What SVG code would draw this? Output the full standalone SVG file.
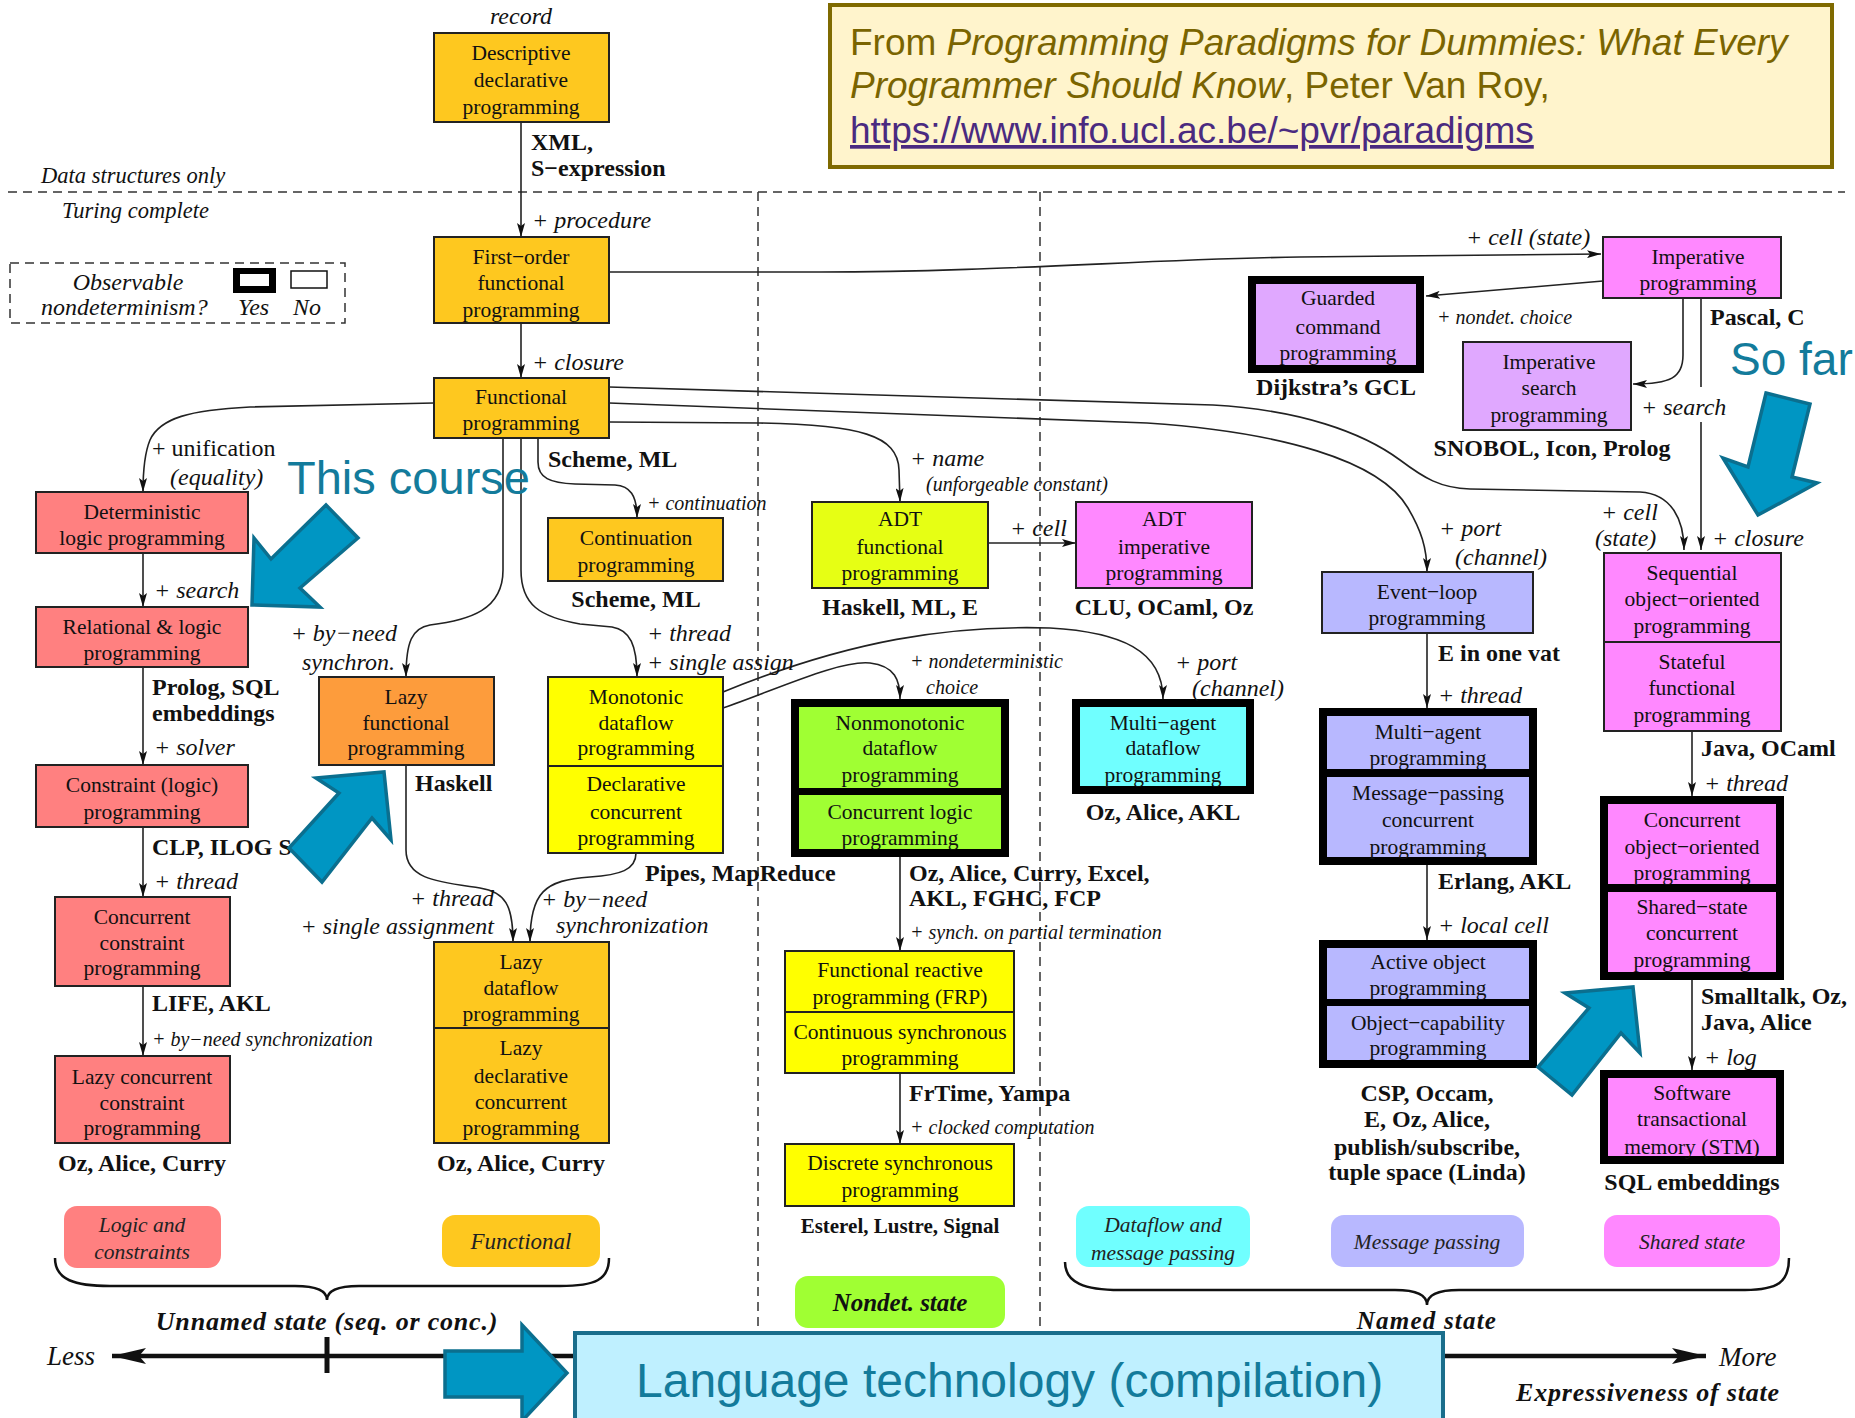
<svg xmlns="http://www.w3.org/2000/svg" width="1855" height="1418" viewBox="0 0 1855 1418">
<defs>
<marker id="ah" viewBox="0 0 14 8" refX="14" refY="4" markerWidth="14" markerHeight="8" orient="auto" markerUnits="userSpaceOnUse"><path d="M0,0 L14,4 L0,8 L3,4 z" fill="#111"/></marker>
<marker id="axl" viewBox="0 0 34 16" refX="0" refY="8" markerWidth="34" markerHeight="16" orient="auto" markerUnits="userSpaceOnUse"><path d="M0,8 L34,0 L27,8 L34,16 z" fill="#111"/></marker>
<marker id="axr" viewBox="0 0 34 16" refX="34" refY="8" markerWidth="34" markerHeight="16" orient="auto" markerUnits="userSpaceOnUse"><path d="M34,8 L0,0 L7,8 L0,16 z" fill="#111"/></marker>
</defs>
<style>
text{font-family:"Liberation Serif","Times New Roman",serif;fill:#111}
.n{font-size:21.5px;text-anchor:middle}
.b{font-size:24px;font-weight:bold}
.bc{text-anchor:middle}
.i{font-size:24px;font-style:italic}
.is{font-size:20px;font-style:italic}
.r{text-anchor:end}
.bx{stroke:#222;stroke-width:2}
.c{fill:none;stroke:#222;stroke-width:1.6}
.dash{fill:none;stroke:#333;stroke-width:1.5;stroke-dasharray:9 6}
.ba{fill:#0096c3;stroke:#0b6f8f;stroke-width:3.5;stroke-linejoin:miter}
.gold{fill:#fec81f}
.sal{fill:#ff8080}
.yel{fill:#ffff00}
.lime{fill:#e6ff14}
.grn{fill:#a0ff33}
.cyan{fill:#70ffff}
.lav{fill:#b8b8ff}
.pur{fill:#e0a8ff}
.mag{fill:#ff88ff}
.org{fill:#fd9c3c}
.pill{font-size:21.5px;font-style:italic;text-anchor:middle;fill:#222}
.bi{font-weight:bold;font-style:italic}
.teal{font-family:"Liberation Sans",Arial,sans-serif;fill:#137b9b}
.tt{font-family:"Liberation Sans",Arial,sans-serif;font-size:37px;fill:#7a6400}
</style>
<rect width="1855" height="1418" fill="#fff"/>

<!-- title box -->
<g id="title">
<rect x="830" y="5" width="1002" height="162" fill="#fff4cc" stroke="#7f6a00" stroke-width="4"/>
<text class="tt" x="850" y="55">From <tspan font-style="italic">Programming Paradigms for Dummies: What Every</tspan></text>
<text class="tt" x="850" y="98"><tspan font-style="italic">Programmer Should Know</tspan>, Peter Van Roy,</text>
<text class="tt" x="850" y="143" text-decoration="underline" style="fill:#4a2a80">https://www.info.ucl.ac.be/~pvr/paradigms</text>
</g>

<!-- dashed separators -->
<g id="separators">
<line class="dash" x1="8" y1="192" x2="1845" y2="192"/>
<line class="dash" x1="758" y1="192" x2="758" y2="1340"/>
<line class="dash" x1="1040" y1="192" x2="1040" y2="1340"/>
<text class="i" x="41" y="183" style="font-size:22.5px">Data structures only</text>
<text class="i" x="62" y="218" style="font-size:22.5px">Turing complete</text>
</g>

<!-- legend -->
<g id="legend">
<rect class="dash" x="10" y="263" width="335" height="60"/>
<text class="i" x="128" y="290" text-anchor="middle">Observable</text>
<text class="i" x="41" y="315">nondeterminism?</text>
<rect x="233" y="268" width="43" height="25" fill="#000"/>
<rect x="240" y="274" width="29" height="12" fill="#fff"/>
<rect x="291" y="271" width="36" height="17" fill="#fff" stroke="#111" stroke-width="1.5"/>
<text class="i" x="238" y="315">Yes</text>
<text class="i" x="293" y="315">No</text>
</g>

<!-- connectors -->
<g id="connectors" class="c">
<path d="M521,122 L521,237" marker-end="url(#ah)"/>
<path d="M521,323 L521,378" marker-end="url(#ah)"/>
<path d="M609,272 L820,272 C1000,272 1150,259 1300,257 L1601,254" marker-end="url(#ah)"/>
<path d="M1603,281 L1426,296" marker-end="url(#ah)"/>
<path d="M1683,298 L1683,355 C1683,378 1670,384 1633,384" marker-end="url(#ah)"/>
<path d="M1701,298 L1701,387"/>
<path d="M1701,422 L1701,550" marker-end="url(#ah)"/>
<path d="M609,387 L1213,405 C1300,410 1362,432 1400,460 C1424,478 1440,488 1470,489 L1640,492 C1672,494 1684,520 1684,550" marker-end="url(#ah)"/>
<path d="M609,403 L1147,423 C1280,432 1380,460 1408,508 C1421,530 1427,548 1427,572" marker-end="url(#ah)"/>
<path d="M609,422 L760,423 C860,425 898,435 899,470 L900,502" marker-end="url(#ah)"/>
<path d="M988,543 L1076,543" marker-end="url(#ah)"/>
<path d="M434,403 L250,407 C190,410 160,418 150,440 C145,452 143,470 143,492" marker-end="url(#ah)"/>
<path d="M143,553 L143,607" marker-end="url(#ah)"/>
<path d="M143,667 L143,765" marker-end="url(#ah)"/>
<path d="M143,827 L143,897" marker-end="url(#ah)"/>
<path d="M143,986 L143,1056" marker-end="url(#ah)"/>
<path d="M538,438 L538,462 C538,478 550,483 575,484 L615,485 C630,486 637,495 637,518" marker-end="url(#ah)"/>
<path d="M521,438 L521,570 C521,605 540,617 580,624 L612,627 C630,630 637,645 637,677" marker-end="url(#ah)"/>
<path d="M503,438 L503,570 C503,610 470,620 430,625 C412,628 406,642 406,677" marker-end="url(#ah)"/>
<path d="M406,765 L406,850 C406,880 440,882 480,888 C505,892 513,905 513,942" marker-end="url(#ah)"/>
<path d="M636,853 C636,870 620,875 590,877 C545,880 530,892 530,942" marker-end="url(#ah)"/>
<path d="M723,692 C850,640 950,625 1050,628 C1120,632 1163,650 1163,699" marker-end="url(#ah)"/>
<path d="M723,708 C780,688 840,660 870,663 C895,666 900,680 900,699" marker-end="url(#ah)"/>
<path d="M900,857 L900,951" marker-end="url(#ah)"/>
<path d="M900,1073 L900,1144" marker-end="url(#ah)"/>
<path d="M1427,633 L1427,708" marker-end="url(#ah)"/>
<path d="M1427,865 L1427,940" marker-end="url(#ah)"/>
<path d="M1692,731 L1692,796" marker-end="url(#ah)"/>
<path d="M1692,980 L1692,1070" marker-end="url(#ah)"/>
</g>

<!-- nodes -->
<g id="n-descriptive"><rect class="bx gold" x="434" y="33" width="175" height="89"/>
<text class="n" x="521" y="60">Descriptive</text><text class="n" x="521" y="87">declarative</text><text class="n" x="521" y="114">programming</text></g>
<g id="n-firstorder"><rect class="bx gold" x="434" y="237" width="175" height="86"/>
<text class="n" x="521" y="264">First−order</text><text class="n" x="521" y="290">functional</text><text class="n" x="521" y="317">programming</text></g>
<g id="n-functional"><rect class="bx gold" x="434" y="378" width="175" height="60"/>
<text class="n" x="521" y="404">Functional</text><text class="n" x="521" y="430">programming</text></g>

<g id="n-deterministic"><rect class="bx sal" x="36" y="492" width="212" height="61"/>
<text class="n" x="142" y="519">Deterministic</text><text class="n" x="142" y="545">logic programming</text></g>
<g id="n-relational"><rect class="bx sal" x="36" y="607" width="212" height="60"/>
<text class="n" x="142" y="634">Relational &amp; logic</text><text class="n" x="142" y="660">programming</text></g>
<g id="n-constraint"><rect class="bx sal" x="36" y="765" width="212" height="62"/>
<text class="n" x="142" y="792">Constraint (logic)</text><text class="n" x="142" y="819">programming</text></g>
<g id="n-concconstraint"><rect class="bx sal" x="55" y="897" width="175" height="89"/>
<text class="n" x="142" y="924">Concurrent</text><text class="n" x="142" y="950">constraint</text><text class="n" x="142" y="975">programming</text></g>
<g id="n-lazycc"><rect class="bx sal" x="55" y="1056" width="175" height="87"/>
<text class="n" x="142" y="1084">Lazy concurrent</text><text class="n" x="142" y="1110">constraint</text><text class="n" x="142" y="1135">programming</text></g>

<g id="n-lazyfunctional"><rect class="bx org" x="319" y="677" width="175" height="88"/>
<text class="n" x="406" y="704">Lazy</text><text class="n" x="406" y="730">functional</text><text class="n" x="406" y="755">programming</text></g>
<g id="n-continuation"><rect class="bx gold" x="548" y="518" width="175" height="63"/>
<text class="n" x="636" y="545">Continuation</text><text class="n" x="636" y="572">programming</text></g>
<g id="n-monotonic"><rect class="bx yel" x="548" y="677" width="175" height="89"/><rect class="bx yel" x="548" y="766" width="175" height="87"/>
<text class="n" x="636" y="704">Monotonic</text><text class="n" x="636" y="730">dataflow</text><text class="n" x="636" y="755">programming</text>
<text class="n" x="636" y="791">Declarative</text><text class="n" x="636" y="819">concurrent</text><text class="n" x="636" y="845">programming</text></g>
<g id="n-lazydataflow"><rect class="bx gold" x="434" y="942" width="175" height="86"/><rect class="bx gold" x="434" y="1028" width="175" height="115"/>
<text class="n" x="521" y="969">Lazy</text><text class="n" x="521" y="995">dataflow</text><text class="n" x="521" y="1021">programming</text>
<text class="n" x="521" y="1055">Lazy</text><text class="n" x="521" y="1083">declarative</text><text class="n" x="521" y="1109">concurrent</text><text class="n" x="521" y="1135">programming</text></g>

<g id="n-adtfunctional"><rect class="bx lime" x="812" y="502" width="176" height="86"/>
<text class="n" x="900" y="526">ADT</text><text class="n" x="900" y="554">functional</text><text class="n" x="900" y="580">programming</text></g>
<g id="n-adtimperative"><rect class="bx mag" x="1076" y="502" width="176" height="86"/>
<text class="n" x="1164" y="526">ADT</text><text class="n" x="1164" y="554">imperative</text><text class="n" x="1164" y="580">programming</text></g>
<g id="n-nonmonotonic"><rect x="791" y="699" width="218" height="158" fill="#000"/>
<rect class="grn" x="799" y="707" width="202" height="81"/><rect class="grn" x="799" y="795" width="202" height="54"/>
<text class="n" x="900" y="730">Nonmonotonic</text><text class="n" x="900" y="755">dataflow</text><text class="n" x="900" y="782">programming</text>
<text class="n" x="900" y="819">Concurrent logic</text><text class="n" x="900" y="845">programming</text></g>
<g id="n-multiagentdataflow"><rect x="1072" y="699" width="182" height="95" fill="#000"/>
<rect class="cyan" x="1080" y="707" width="166" height="79"/>
<text class="n" x="1163" y="730">Multi−agent</text><text class="n" x="1163" y="755">dataflow</text><text class="n" x="1163" y="782">programming</text></g>
<g id="n-frp"><rect class="bx yel" x="785" y="951" width="229" height="61"/><rect class="bx yel" x="785" y="1012" width="229" height="61"/>
<text class="n" x="900" y="977">Functional reactive</text><text class="n" x="900" y="1004">programming (FRP)</text>
<text class="n" x="900" y="1039">Continuous synchronous</text><text class="n" x="900" y="1065">programming</text></g>
<g id="n-discrete"><rect class="bx yel" x="785" y="1144" width="229" height="62"/>
<text class="n" x="900" y="1170">Discrete synchronous</text><text class="n" x="900" y="1197">programming</text></g>

<g id="n-imperative"><rect class="bx mag" x="1603" y="237" width="178" height="61"/>
<text class="n" x="1698" y="264">Imperative</text><text class="n" x="1698" y="290">programming</text></g>
<g id="n-guarded"><rect x="1248" y="276" width="176" height="97" fill="#000"/>
<rect class="pur" x="1256" y="284" width="160" height="81"/>
<text class="n" x="1338" y="305">Guarded</text><text class="n" x="1338" y="334">command</text><text class="n" x="1338" y="360">programming</text></g>
<g id="n-impsearch"><rect class="bx pur" x="1463" y="342" width="168" height="88"/>
<text class="n" x="1549" y="369">Imperative</text><text class="n" x="1549" y="395">search</text><text class="n" x="1549" y="422">programming</text></g>
<g id="n-eventloop"><rect class="bx lav" x="1322" y="572" width="211" height="61"/>
<text class="n" x="1427" y="599">Event−loop</text><text class="n" x="1427" y="625">programming</text></g>
<g id="n-multiagent"><rect x="1319" y="708" width="218" height="157" fill="#000"/>
<rect class="lav" x="1327" y="716" width="202" height="53"/><rect class="lav" x="1327" y="777" width="202" height="80"/>
<text class="n" x="1428" y="739">Multi−agent</text><text class="n" x="1428" y="765">programming</text>
<text class="n" x="1428" y="800">Message−passing</text><text class="n" x="1428" y="827">concurrent</text><text class="n" x="1428" y="854">programming</text></g>
<g id="n-activeobject"><rect x="1319" y="940" width="218" height="128" fill="#000"/>
<rect class="lav" x="1327" y="948" width="202" height="51"/><rect class="lav" x="1327" y="1006" width="202" height="54"/>
<text class="n" x="1428" y="969">Active object</text><text class="n" x="1428" y="995">programming</text>
<text class="n" x="1428" y="1030">Object−capability</text><text class="n" x="1428" y="1055">programming</text></g>
<g id="n-sequentialoo"><rect class="bx mag" x="1604" y="553" width="177" height="89"/><rect class="bx mag" x="1604" y="642" width="177" height="89"/>
<text class="n" x="1692" y="580">Sequential</text><text class="n" x="1692" y="606">object−oriented</text><text class="n" x="1692" y="633">programming</text>
<text class="n" x="1692" y="669">Stateful</text><text class="n" x="1692" y="695">functional</text><text class="n" x="1692" y="722">programming</text></g>
<g id="n-concurrentoo"><rect x="1600" y="796" width="184" height="184" fill="#000"/>
<rect class="mag" x="1608" y="804" width="168" height="80"/><rect class="mag" x="1608" y="892" width="168" height="80"/>
<text class="n" x="1692" y="827">Concurrent</text><text class="n" x="1692" y="854">object−oriented</text><text class="n" x="1692" y="880">programming</text>
<text class="n" x="1692" y="914">Shared−state</text><text class="n" x="1692" y="940">concurrent</text><text class="n" x="1692" y="967">programming</text></g>
<g id="n-stm"><rect x="1600" y="1070" width="184" height="94" fill="#000"/>
<rect class="mag" x="1608" y="1078" width="168" height="78"/>
<text class="n" x="1692" y="1100">Software</text><text class="n" x="1692" y="1126">transactional</text><text class="n" x="1692" y="1154">memory (STM)</text></g>

<!-- labels -->
<g id="labels">
<text class="i" x="521" y="24" text-anchor="middle">record</text>
<text class="b" x="531" y="150">XML,</text>
<text class="b" x="531" y="176">S−expression</text>
<text class="i" x="532" y="228">+ procedure</text>
<text class="i" x="532" y="370">+ closure</text>
<text class="b" x="548" y="467">Scheme, ML</text>
<text x="152" y="456" style="font-size:24px">+ unification</text>
<text class="i" x="170" y="485">(equality)</text>
<text class="i" x="154" y="598">+ search</text>
<text class="b" x="152" y="695">Prolog, SQL</text>
<text class="b" x="152" y="721">embeddings</text>
<text class="i" x="154" y="755">+ solver</text>
<text class="b" x="152" y="855">CLP, ILOG Solver</text>
<text class="i" x="154" y="889">+ thread</text>
<text class="b" x="152" y="1011">LIFE, AKL</text>
<text class="is" x="152" y="1046">+ by−need synchronization</text>
<text class="b bc" x="142" y="1171">Oz, Alice, Curry</text>
<text class="i r" x="397" y="641">+ by−need</text>
<text class="i r" x="395" y="670">synchron.</text>
<text class="b" x="415" y="791">Haskell</text>
<text class="i r" x="494" y="906">+ thread</text>
<text class="i r" x="494" y="934">+ single assignment</text>
<text class="i" x="541" y="907">+ by−need</text>
<text class="i" x="556" y="933">synchronization</text>
<text class="b bc" x="521" y="1171">Oz, Alice, Curry</text>
<text class="is" x="647" y="510">+ continuation</text>
<text class="b bc" x="636" y="607">Scheme, ML</text>
<text class="i" x="647" y="641">+ thread</text>
<text class="i" x="647" y="670">+ single assign</text>
<text class="b" x="645" y="881">Pipes, MapReduce</text>
<text class="i" x="910" y="466">+ name</text>
<text class="is" x="926" y="491">(unforgeable constant)</text>
<text class="b bc" x="900" y="615">Haskell, ML, E</text>
<text class="i" x="1010" y="536">+ cell</text>
<text class="b bc" x="1164" y="615">CLU, OCaml, Oz</text>
<text class="is" x="910" y="668">+ nondeterministic</text>
<text class="is" x="926" y="694">choice</text>
<text class="i" x="1175" y="670">+ port</text>
<text class="i" x="1192" y="696">(channel)</text>
<text class="b" x="909" y="881">Oz, Alice, Curry, Excel,</text>
<text class="b" x="909" y="906">AKL, FGHC, FCP</text>
<text class="b bc" x="1163" y="820">Oz, Alice, AKL</text>
<text class="is" x="910" y="939">+ synch. on partial termination</text>
<text class="b" x="909" y="1101">FrTime, Yampa</text>
<text class="is" x="910" y="1134">+ clocked computation</text>
<text class="b bc" x="900" y="1233" style="font-size:21px">Esterel, Lustre, Signal</text>
<text class="i" x="1466" y="245">+ cell (state)</text>
<text class="is" x="1437" y="324">+ nondet. choice</text>
<text class="b bc" x="1336" y="395">Dijkstra’s GCL</text>
<text class="b" x="1710" y="325">Pascal, C</text>
<text class="i" x="1641" y="415">+ search</text>
<text class="b bc" x="1552" y="456">SNOBOL, Icon, Prolog</text>
<text class="i" x="1439" y="536">+ port</text>
<text class="i" x="1455" y="565">(channel)</text>
<text class="i" x="1601" y="520">+ cell</text>
<text class="i" x="1595" y="546">(state)</text>
<text class="i" x="1712" y="546">+ closure</text>
<text class="b" x="1438" y="661">E in one vat</text>
<text class="i" x="1438" y="703">+ thread</text>
<text class="b" x="1438" y="889">Erlang, AKL</text>
<text class="i" x="1438" y="933">+ local cell</text>
<text class="b bc" x="1427" y="1101">CSP, Occam,</text>
<text class="b bc" x="1427" y="1127">E, Oz, Alice,</text>
<text class="b bc" x="1427" y="1155">publish/subscribe,</text>
<text class="b bc" x="1427" y="1180">tuple space (Linda)</text>
<text class="b" x="1701" y="756">Java, OCaml</text>
<text class="i" x="1704" y="791">+ thread</text>
<text class="b" x="1701" y="1004">Smalltalk, Oz,</text>
<text class="b" x="1701" y="1030">Java, Alice</text>
<text class="i" x="1704" y="1065">+ log</text>
<text class="b bc" x="1692" y="1190">SQL embeddings</text>
</g>

<!-- category pills -->
<g id="pill-logic"><rect x="64" y="1206" width="157" height="62" rx="13" fill="#ff8080"/>
<text class="pill" x="142" y="1232">Logic and</text><text class="pill" x="142" y="1259">constraints</text></g>
<g id="pill-functional"><rect x="442" y="1215" width="158" height="52" rx="13" fill="#fec81f"/>
<text class="pill" x="521" y="1249" style="font-size:23px">Functional</text></g>
<g id="pill-nondet"><rect x="795" y="1276" width="210" height="52" rx="13" fill="#a0ff33"/>
<text class="pill bi" x="900" y="1311" style="font-size:25px;font-weight:bold;fill:#111">Nondet. state</text></g>
<g id="pill-dataflow"><rect x="1076" y="1206" width="174" height="61" rx="13" fill="#70ffff"/>
<text class="pill" x="1163" y="1232">Dataflow and</text><text class="pill" x="1163" y="1260">message passing</text></g>
<g id="pill-message"><rect x="1331" y="1215" width="193" height="52" rx="13" fill="#b8b8ff"/>
<text class="pill" x="1427" y="1249">Message passing</text></g>
<g id="pill-shared"><rect x="1604" y="1215" width="176" height="52" rx="13" fill="#ff88ff"/>
<text class="pill" x="1692" y="1249">Shared state</text></g>

<!-- braces and axis -->
<g id="axis">
<path d="M55,1258 C55,1280 75,1286 110,1286 L295,1286 C318,1286 327,1292 327,1300 C327,1292 336,1286 359,1286 L560,1286 C595,1286 609,1280 609,1258" fill="none" stroke="#111" stroke-width="2.5"/>
<path d="M1065,1262 C1065,1283 1085,1290 1120,1290 L1395,1290 C1418,1290 1427,1296 1427,1305 C1427,1296 1436,1290 1459,1290 L1745,1290 C1778,1290 1789,1282 1789,1258" fill="none" stroke="#111" stroke-width="2.5"/>
<text class="i bi" x="327" y="1330" text-anchor="middle" style="font-size:26px;letter-spacing:0.8px">Unnamed state (seq. or conc.)</text>
<text class="i bi" x="1427" y="1329" text-anchor="middle" style="font-size:25px;letter-spacing:1.2px">Named state</text>
<line x1="112" y1="1356" x2="1706" y2="1356" stroke="#111" stroke-width="4.5" marker-start="url(#axl)" marker-end="url(#axr)"/>
<line x1="327" y1="1337" x2="327" y2="1373" stroke="#111" stroke-width="5"/>
<text class="i" x="47" y="1365" style="font-size:27px">Less</text>
<text class="i" x="1719" y="1366" style="font-size:27px">More</text>
<text class="i bi" x="1516" y="1401" style="font-size:26px;letter-spacing:0.8px">Expressiveness of state</text>
</g>

<!-- overlays -->
<g id="lang-tech">
<rect x="575" y="1333" width="868" height="100" fill="#bff0ff" stroke="#1a6e8c" stroke-width="4"/>
<text class="teal" x="636" y="1397" style="font-size:48px">Language technology (compilation)</text>
</g>
<g id="callouts">
<text class="teal" x="287" y="494" style="font-size:47px">This course</text>
<text class="teal" x="1730" y="375" style="font-size:46px">So far</text>
<polygon class="ba" points="254,538 271,559 326,505 358,538 300,588 320,607 252,605"/>
<polygon class="ba" points="316,778 384,772 391,840 372,818 322,882 289,848 339,793"/>
<polygon class="ba" points="1565,993 1633,987 1640,1053 1621,1033 1572,1095 1538,1067 1589,1008"/>
<polygon class="ba" points="1766,393 1810,404 1792,477 1817,483 1758,515 1723,458 1748,467"/>
<polygon class="ba" points="445,1351 522,1351 522,1325 567,1373 522,1421 522,1397 445,1397"/>
</g>
</svg>
